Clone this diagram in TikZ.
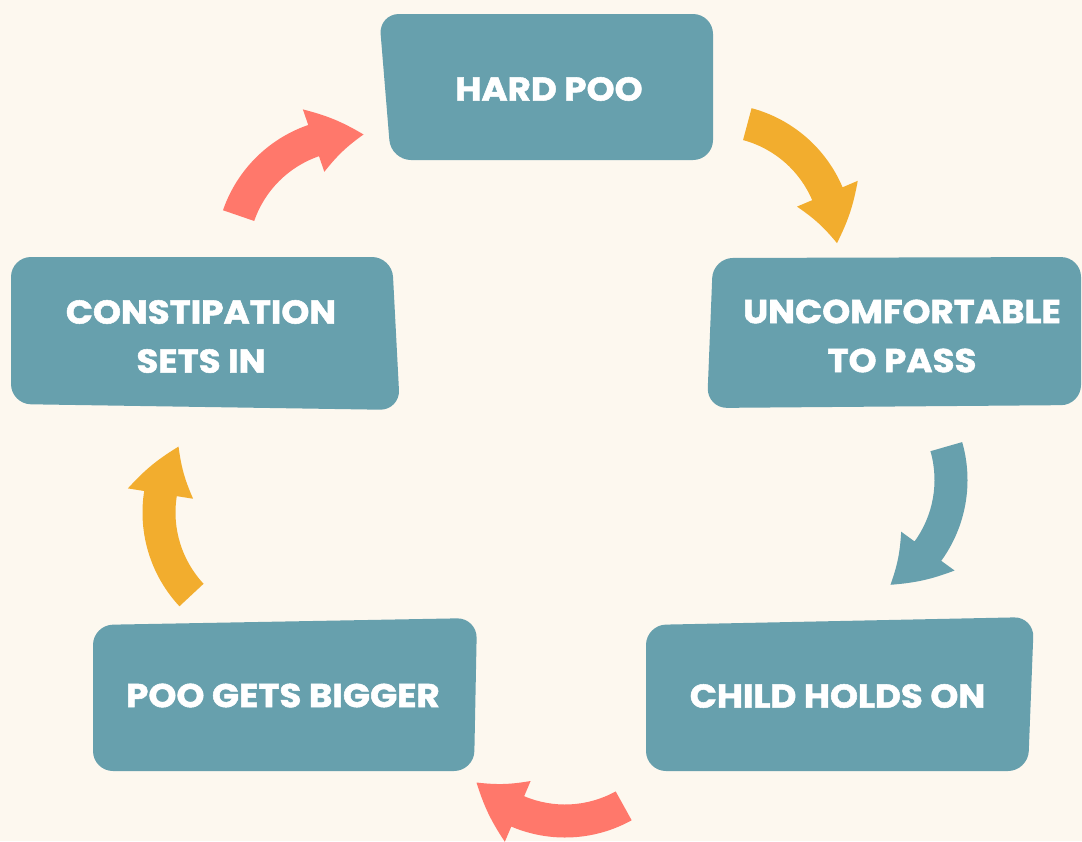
\documentclass[tikz,border=0pt]{standalone}
\usepackage{fontspec}
\setmainfont{Poppins}[BoldFeatures={FakeBold=1.6,FakeStretch=1.08}]
\usetikzlibrary{calc}

\definecolor{cream}{HTML}{FDF8EF}
\definecolor{boxteal}{HTML}{67A0AD}
\definecolor{pooorange}{HTML}{F2AD2E}
\definecolor{poored}{HTML}{FF786B}

\tikzset{
  stepshape/.style={fill=boxteal, rounded corners=20pt},
  steptext/.style={text=white, font=\bfseries\fontsize{33}{49}\selectfont, align=center},
  pics/cyclearrow/.style={code={
    \fill[#1] (76:137.5) arc[start angle=76, end angle=24, radius=137.5]
      -- (24:154) to[bend left=8] (0:121) to[bend right=8] (24:88)
      -- (24:104.5) arc[start angle=24, end angle=76, radius=104.5] -- cycle;
  }}
}

\begin{document}
\begin{tikzpicture}[x=1pt,y=1pt]
      \fill[cream] (0,0) rectangle (1082,-841);
      \useasboundingbox (0,0) rectangle (1082,-841);

      % boxes
      \fill[stepshape] (379,-14) -- (713,-14) -- (713,-160) -- (391,-160) -- cycle;
      \fill[stepshape] (713,-258) -- (1081,-257) -- (1081,-405) -- (707,-408) -- cycle;
      \fill[stepshape] (646,-625) -- (1034,-617) -- (1028,-771) -- (646,-771) -- cycle;
      \fill[stepshape] (93,-625) -- (477,-618) -- (474,-771) -- (93,-771) -- cycle;
      \fill[stepshape] (11,-257) -- (392,-257) -- (400,-410) -- (11,-404) -- cycle;

      \node[steptext] (hard)    at (549,-89)    {HARD POO};
      \node[steptext] (pass)    at (902,-336)   {UNCOMFORTABLE\\TO PASS};
      \node[steptext] (holds)   at (837.5,-696) {CHILD HOLDS ON};
      \node[steptext] (bigger)  at (283,-695.5) {POO GETS BIGGER};
      \node[steptext] (constip) at (201,-336.5) {CONSTIPATION\\SETS IN};

      % arrows
      \coordinate (c1) at (716,-241);
      \coordinate (c2) at (830,-480);
      \coordinate (c3) at (565,-700);
      \coordinate (c4) at (280,-512.5);
      \coordinate (c5) at (353,-255);

      \pic[rotate=-1]   at (c1) {cyclearrow=pooorange};
      \pic[rotate=-60]  at (c2) {cyclearrow=boxteal};
      \pic[rotate=-137] at (c3) {cyclearrow=poored};
      \pic[rotate=147]  at (c4) {cyclearrow=pooorange};
      \pic[rotate=85]   at (c5) {cyclearrow=poored};

\end{tikzpicture}
\end{document}
